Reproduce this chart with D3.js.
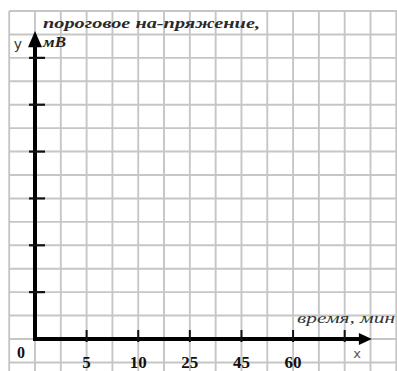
<!DOCTYPE html>
<html><head><meta charset="utf-8">
<script src="https://cdn.jsdelivr.net/npm/d3@7"></script>
<style>html,body{margin:0;padding:0;background:#fff;}svg{display:block;}</style>
</head><body>
<script>
// Data
const xTickLabels = ["5", "10", "25", "45", "60"];
const xTickCols = [2, 4, 6, 8, 10, 12];      // tick positions in grid cells
const yTickRows = [2, 4, 6, 8, 10, 12];      // unlabeled y ticks
const yTitle = "пороговое на-пряжение,";
const yUnit = "мВ";
const xTitle = "время, мин";

const W = 397, H = 371;
const svg = d3.select("body").append("svg").attr("width", W).attr("height", H);

const x = d3.scaleLinear().domain([0, 13]).range([35, 370.5]);
const y = d3.scaleLinear().domain([0, 14]).range([339, 11]);

// grid
const grid = svg.append("g").attr("stroke", "#c6c6c6").attr("stroke-width", 1.9);
d3.range(-1, 15).forEach(c => {
  grid.append("line").attr("x1", x(c)).attr("x2", x(c)).attr("y1", y(14)).attr("y2", H);
});
d3.range(-1, 15).forEach(r => {
  grid.append("line").attr("x1", x(-1)).attr("x2", W).attr("y1", y(r)).attr("y2", y(r));
});

// axes
const ax = svg.append("g");
ax.append("line").attr("x1", x(0)).attr("x2", x(0)).attr("y1", y(0) + 2).attr("y2", y(12.5))
  .attr("stroke", "#000").attr("stroke-width", 4);
ax.append("path").attr("d", `M${x(0)},${y(13.15)} L${x(0) - 7},${y(12.45)} L${x(0) + 7},${y(12.45)} Z`).attr("fill", "#000");
ax.append("line").attr("x1", x(0) - 2).attr("x2", x(12.6)).attr("y1", y(0)).attr("y2", y(0))
  .attr("stroke", "#000").attr("stroke-width", 4);
ax.append("path").attr("d", `M${x(13.05)},${y(0)} L${x(12.55)},${y(0) - 6} L${x(12.55)},${y(0) + 6} Z`).attr("fill", "#000");

// y ticks
yTickRows.forEach(r => {
  ax.append("line").attr("x1", x(0) - 6).attr("x2", x(0) + 10).attr("y1", y(r)).attr("y2", y(r))
    .attr("stroke", "#111").attr("stroke-width", 2.2);
});
// x ticks
xTickCols.forEach(c => {
  ax.append("line").attr("x1", x(c)).attr("x2", x(c)).attr("y1", y(0) - 9).attr("y2", y(0) + 3)
    .attr("stroke", "#111").attr("stroke-width", 2);
});

// tick labels
xTickLabels.forEach((t, i) => {
  svg.append("text").attr("x", x(xTickCols[i])).attr("y", 368).attr("text-anchor", "middle")
    .attr("font-family", "Liberation Serif").attr("font-weight", "bold").attr("font-size", 17)
    .attr("fill", "#111").text(t);
});
svg.append("text").attr("x", 21).attr("y", 358).attr("text-anchor", "middle")
  .attr("font-family", "Liberation Serif").attr("font-weight", "bold").attr("font-size", 16)
  .attr("fill", "#111").text("0");

// axis letters
svg.append("text").attr("x", 357).attr("y", 358).attr("text-anchor", "middle")
  .attr("font-family", "DejaVu Sans").attr("font-size", 13).attr("fill", "#555").text("x");
svg.append("text").attr("x", 18).attr("y", 49).attr("text-anchor", "middle")
  .attr("font-family", "DejaVu Sans").attr("font-size", 14).attr("fill", "#333").text("y");

// titles
svg.append("text").attr("x", 43).attr("y", 28)
  .attr("font-family", "Liberation Serif").attr("font-style", "italic").attr("font-weight", "bold")
  .attr("font-size", 15).attr("fill", "#2a2a2a")
  .attr("textLength", 217).attr("lengthAdjust", "spacingAndGlyphs").text(yTitle);
svg.append("text").attr("x", 43).attr("y", 47)
  .attr("font-family", "Liberation Serif").attr("font-style", "italic").attr("font-weight", "bold")
  .attr("font-size", 15).attr("fill", "#222")
  .attr("textLength", 23).attr("lengthAdjust", "spacingAndGlyphs").text(yUnit);
svg.append("text").attr("x", 297).attr("y", 323)
  .attr("font-family", "Liberation Serif").attr("font-style", "italic")
  .attr("font-size", 15).attr("fill", "#333")
  .attr("textLength", 98).attr("lengthAdjust", "spacingAndGlyphs").text(xTitle);
</script>
</body></html>
